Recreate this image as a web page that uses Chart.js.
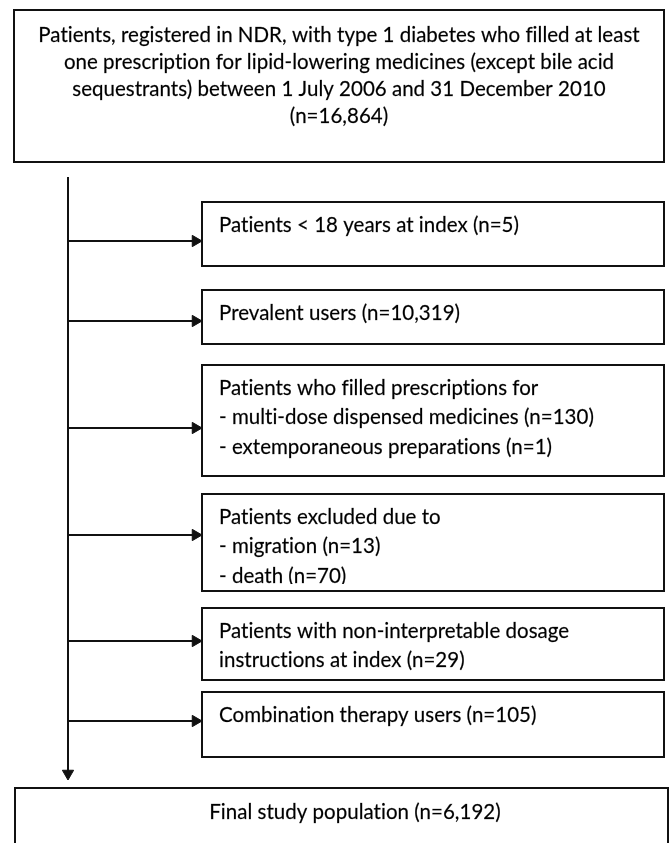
<!DOCTYPE html>
<html>
<head>
<meta charset="utf-8">
<script src="https://cdn.jsdelivr.net/npm/chart.js@4.4.1/dist/chart.umd.min.js"></script>
<style>
  html, body { margin: 0; padding: 0; background: #ffffff; }
  #wrap { width: 669px; height: 843px; }
</style>
</head>
<body>
<div id="wrap"><canvas id="c" width="669" height="843"></canvas></div>
<script>
// ---------- content (text of the flow diagram) ----------
const topLines = [
  "Patients, registered in NDR, with type 1 diabetes who filled at least",
  "one prescription for lipid-lowering medicines (except bile acid",
  "sequestrants) between 1 July 2006 and 31 December 2010",
  "(n=16,864)"
];
const exclusionLabels = [
  ["Patients < 18 years at index (n=5)"],
  ["Prevalent users (n=10,319)"],
  ["Patients who filled prescriptions for", "- multi-dose dispensed medicines (n=130)", "- extemporaneous preparations (n=1)"],
  ["Patients excluded due to", "- migration (n=13)", "- death (n=70)"],
  ["Patients with non-interpretable dosage", "instructions at index (n=29)"],
  ["Combination therapy users (n=105)"]
];
const finalLabel = "Final study population (n=6,192)";

// ---------- layout (diagram units = pixels of the 669x843 frame) ----------
const topBox = [14, 10, 664, 162];          // left, top, right, bottom
const finalBox = [15, 788, 668, 870];
const sideLeft = 202, sideRight = 664;
const sideTops = [202, 290, 365, 494, 608, 692];
const sideBottoms = [266, 344, 476, 591, 680, 757];
const arrowYs = [241, 321, 428, 535, 641, 721];
const trunkX = 68, trunkTop = 177, trunkTip = 780;
const headR = 6.5;
const ink = '#111111';

// ---------- font fitting ----------
const FONT = 'Lato, "Noto Sans", sans-serif';
const SPACING = '0.02px';   // non-zero spacing disables ligatures
const mctx = document.createElement('canvas').getContext('2d');
mctx.font = '100px ' + FONT;
const fontSize = 100 * 600 / mctx.measureText(topLines[0]).width;

// ---------- datasets ----------
function rectData(b) {
  return [{x:b[0],y:b[1]},{x:b[2],y:b[1]},{x:b[2],y:b[3]},{x:b[0],y:b[3]},{x:b[0],y:b[1]}];
}
function boxDataset(b, color, width) {
  return { data: rectData(b), showLine: true, borderColor: color, borderWidth: width,
           pointRadius: 0, fill: false, tension: 0, borderJoinStyle: 'miter', borderCapStyle: 'square' };
}
function arrowDataset(x1, y1, x2, y2, rot) {
  return { data: [{x:x1,y:y1},{x:x2,y:y2}], showLine: true, borderColor: ink, borderWidth: 2,
           pointRadius: [0, headR], pointRotation: [0, rot], pointStyle: 'triangle',
           pointBackgroundColor: ink, pointBorderColor: ink, pointBorderWidth: 1,
           fill: false, tension: 0 };
}

const datasets = [];
datasets.push(boxDataset(topBox, ink, 2));
sideTops.forEach((t, i) => datasets.push(boxDataset([sideLeft, t, sideRight, sideBottoms[i]], ink, 2)));
datasets.push(boxDataset(finalBox, ink, 2));
// trunk (vertical arrow)
datasets.push(arrowDataset(trunkX, trunkTop, trunkX, trunkTip - headR, 180));
// branch arrows
arrowYs.forEach(y => datasets.push(arrowDataset(trunkX + 1, y, sideLeft - headR, y, 90)));

// ---------- text plugin ----------
function drawText(ctx, s, x, y) {
  ctx.fillText(s, x, y);
  ctx.strokeText(s, x, y);
}
const textPlugin = {
  id: 'boxText',
  afterDatasetsDraw(chart) {
    const ctx = chart.ctx, xs = chart.scales.x, ys = chart.scales.y;
    ctx.save();
    ctx.fillStyle = '#000000';
    ctx.strokeStyle = 'rgba(0,0,0,0.55)';
    ctx.lineWidth = 0.35;
    ctx.font = fontSize.toFixed(2) + 'px ' + FONT;
    if ('letterSpacing' in ctx) ctx.letterSpacing = SPACING;
    ctx.textBaseline = 'middle';
    // top box, centred
    ctx.textAlign = 'center';
    const cx = xs.getPixelForValue((topBox[0] + topBox[2]) / 2);
    topLines.forEach((s, i) => drawText(ctx, s, cx, ys.getPixelForValue(35 + 27 * i)));
    // side boxes, left aligned, clipped to the inner text area of the box
    ctx.textAlign = 'left';
    exclusionLabels.forEach((lines, i) => {
      const l = xs.getPixelForValue(sideLeft), r = xs.getPixelForValue(sideRight);
      const t = ys.getPixelForValue(sideTops[i]), b = ys.getPixelForValue(sideBottoms[i]);
      ctx.save();
      ctx.beginPath(); ctx.rect(l + 1, t + 1, r - l - 2, b - t - 8); ctx.clip();
      lines.forEach((s, j) => drawText(ctx, s, xs.getPixelForValue(sideLeft + 17), ys.getPixelForValue(sideTops[i] + 23 + 29.5 * j)));
      ctx.restore();
    });
    // final box
    ctx.textAlign = 'center';
    drawText(ctx, finalLabel, xs.getPixelForValue(355), ys.getPixelForValue(812));
    ctx.restore();
  }
};

new Chart(document.getElementById('c'), {
  type: 'scatter',
  data: { datasets },
  options: {
    responsive: false,
    devicePixelRatio: 1,
    animation: false,
    layout: { padding: 0, autoPadding: false },
    plugins: { legend: { display: false }, tooltip: { enabled: false } },
    events: [],
    scales: {
      x: { type: 'linear', min: 0, max: 669, display: false },
      y: { type: 'linear', min: 0, max: 843, reverse: true, display: false }
    }
  },
  plugins: [textPlugin]
});
</script>
</body>
</html>
